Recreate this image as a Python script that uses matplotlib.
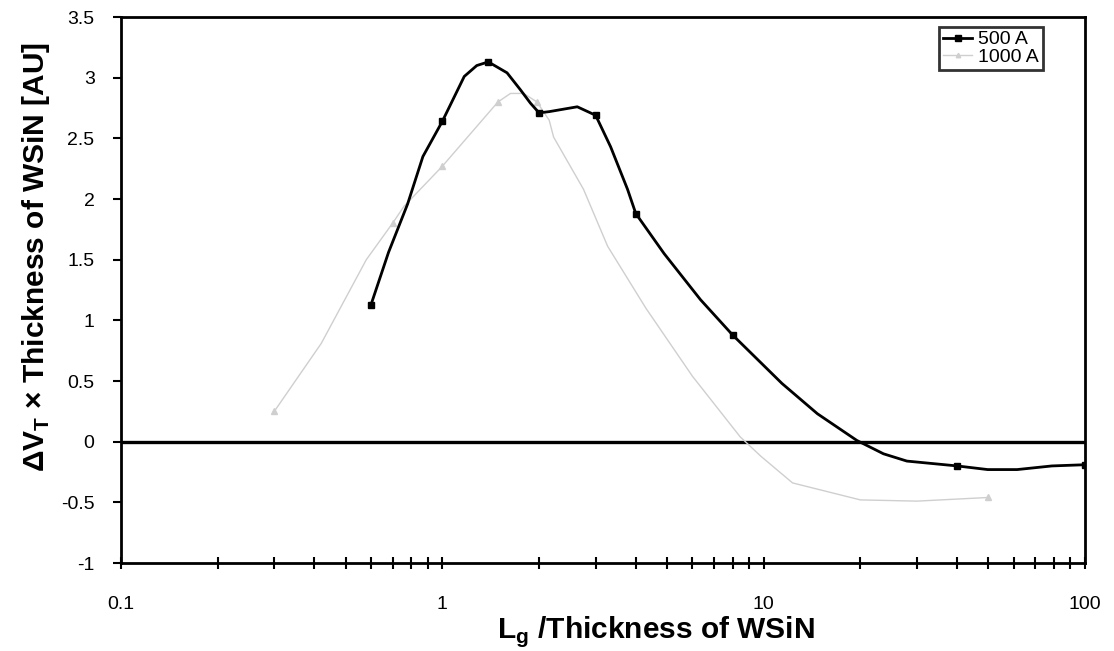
import matplotlib
matplotlib.use("Agg")
import matplotlib.pyplot as plt
from matplotlib.ticker import LogLocator, FixedLocator, NullFormatter

plt.rcParams['font.family'] = ['Liberation Sans', 'DejaVu Sans']
plt.rcParams['mathtext.fontset'] = 'custom'
plt.rcParams['mathtext.rm'] = 'Liberation Sans:bold'
plt.rcParams['mathtext.bf'] = 'Liberation Sans:bold'

x_500 = [0.6, 0.68, 0.78, 0.87, 1.0, 1.17, 1.28, 1.39, 1.59, 1.75, 1.88, 2.0,
         2.15, 2.63, 3.0, 3.34, 3.77, 4.0, 4.9, 6.36, 8.0, 11.4, 14.7, 19.5,
         23.6, 27.9, 40.0, 49.8, 61.5, 78.9, 100.0]
y_500 = [1.13, 1.56, 1.96, 2.35, 2.64, 3.01, 3.1, 3.13, 3.04, 2.9, 2.79, 2.71,
         2.72, 2.76, 2.69, 2.43, 2.08, 1.88, 1.55, 1.17, 0.88, 0.48, 0.23, 0.01,
         -0.1, -0.16, -0.2, -0.23, -0.23, -0.2, -0.19]
mark_500 = [0, 4, 7, 11, 14, 17, 20, 26, 30]

# 1000 A series (light grey)
x_1000 = [0.3, 0.42, 0.58, 0.7, 0.76, 1.0, 1.49, 1.63, 1.79, 1.97, 2.15, 2.22,
          2.75, 3.27, 4.3, 6.0, 8.45, 9.8, 12.3, 20.0, 30.0, 50.0]
y_1000 = [0.25, 0.81, 1.5, 1.8, 1.94, 2.27, 2.8, 2.87, 2.87, 2.8, 2.65, 2.51,
          2.08, 1.61, 1.1, 0.54, 0.04, -0.12, -0.34, -0.48, -0.49, -0.46]
mark_1000 = [0, 3, 5, 6, 9, 21]

x_ticks = [0.1, 1, 10, 100]
x_ticklabels = ['0.1', '1', '10', '100']
y_ticks = [-1, -0.5, 0, 0.5, 1, 1.5, 2, 2.5, 3, 3.5]
y_ticklabels = ['-1', '-0.5', '0', '0.5', '1', '1.5', '2', '2.5', '3', '3.5']

fig = plt.figure(figsize=(11.14, 6.51), dpi=100)
ax = fig.add_axes([121 / 1114, 88 / 651, 964 / 1114, 546 / 651])

ax.axhline(0, color='black', lw=2.4, zorder=1)
ax.plot(x_1000, y_1000, color='#cfcfcf', lw=1.0, marker='^', markersize=4,
        markevery=mark_1000, label='1000 A', zorder=2)
ax.plot(x_500, y_500, color='black', lw=2.0, marker='s', markersize=5,
        markevery=mark_500, label='500 A', zorder=3)

ax.set_xscale('log')
ax.set_xlim(0.1, 100)
ax.set_ylim(-1, 3.5)

ax.xaxis.set_major_locator(FixedLocator(x_ticks))
ax.set_xticklabels(x_ticklabels)
ax.xaxis.set_minor_locator(LogLocator(base=10, subs=range(2, 10)))
ax.xaxis.set_minor_formatter(NullFormatter())
ax.set_yticks(y_ticks)
ax.set_yticklabels(y_ticklabels)

ax.tick_params(axis='x', which='both', direction='inout', length=8, width=1.5,
               labelsize=14, pad=20)
ax.tick_params(axis='y', which='major', direction='out', length=6, width=1.5,
               labelsize=14, pad=13)

for sp in ax.spines.values():
    sp.set_linewidth(2)

ax.set_xlabel(r'L$_\mathrm{g}$ /Thickness of WSiN', fontsize=21.5,
              fontweight='bold')
ax.xaxis.set_label_coords(0.555, -0.094)
ax.set_ylabel(r'$\Delta$V$_\mathrm{T}$ × Thickness of WSiN [AU]', fontsize=21.5,
              fontweight='bold')
ax.yaxis.set_label_coords(-0.072, 0.56)

handles, labels = ax.get_legend_handles_labels()
leg = ax.legend(handles[::-1], labels[::-1], loc='upper right',
                bbox_to_anchor=(0.956, 0.982), fontsize=14, frameon=True,
                fancybox=False, edgecolor='black', handlelength=1.5,
                handletextpad=0.3, borderpad=0.2, borderaxespad=0,
                labelspacing=0.0, markerscale=0.8)
leg.get_frame().set_linewidth(2)

fig.savefig('out.png', dpi=100)
